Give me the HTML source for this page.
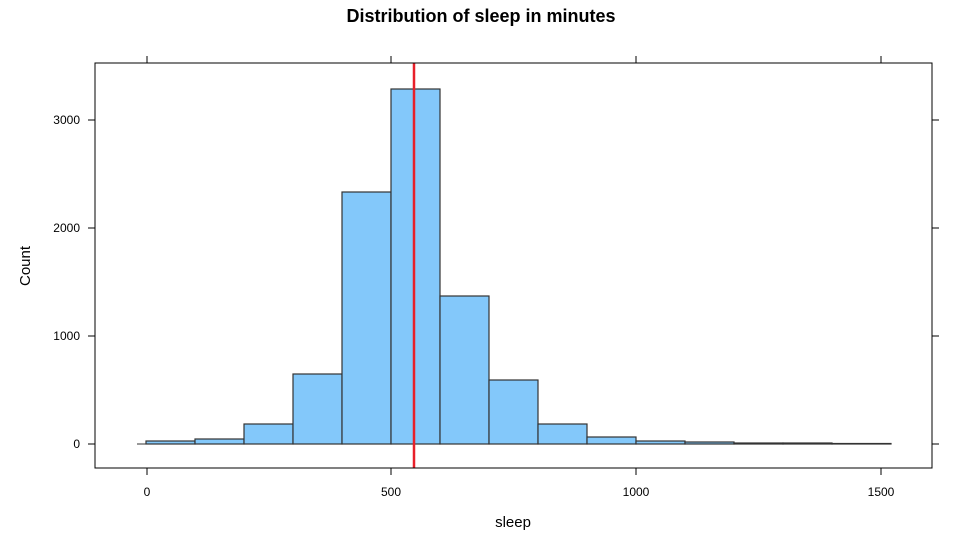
<!DOCTYPE html>
<html><head><style>body{margin:0;background:#fff}</style></head><body>
<svg width="962" height="540" xmlns="http://www.w3.org/2000/svg" font-family="Liberation Sans, sans-serif">
<rect width="962" height="540" fill="#fff"/>
<text x="481" y="22" text-anchor="middle" font-size="18" font-weight="bold">Distribution of sleep in minutes</text>
<g fill="#83c8fa" stroke="#333" stroke-width="1.2">
<rect x="146" y="441" width="49" height="3"/>
<rect x="195" y="439" width="49" height="5"/>
<rect x="244" y="424" width="49" height="20"/>
<rect x="293" y="374" width="49" height="70"/>
<rect x="342" y="192" width="49" height="252"/>
<rect x="391" y="89" width="49" height="355"/>
<rect x="440" y="296" width="49" height="148"/>
<rect x="489" y="380" width="49" height="64"/>
<rect x="538" y="424" width="49" height="20"/>
<rect x="587" y="437" width="49" height="7"/>
<rect x="636" y="441" width="49" height="3"/>
<rect x="685" y="442" width="49" height="2"/>
<rect x="734" y="443" width="49" height="1"/>
<rect x="783" y="443" width="49" height="1"/>
<rect x="832" y="443.5" width="59" height="0.5"/>
</g>
<line x1="137" y1="444" x2="891" y2="444" stroke="#333" stroke-width="1"/>
<line x1="414" y1="63" x2="414" y2="468" stroke="#e8202a" stroke-width="2.5"/>
<rect x="95" y="63" width="837" height="405" fill="none" stroke="#000" stroke-width="1"/>
<g stroke="#000">
<line x1="147" y1="468" x2="147" y2="475"/><line x1="391" y1="468" x2="391" y2="475"/><line x1="636" y1="468" x2="636" y2="475"/><line x1="881" y1="468" x2="881" y2="475"/>
<line x1="147" y1="63" x2="147" y2="56"/><line x1="391" y1="63" x2="391" y2="56"/><line x1="636" y1="63" x2="636" y2="56"/><line x1="881" y1="63" x2="881" y2="56"/>
<line x1="95" y1="444" x2="88" y2="444"/><line x1="95" y1="336" x2="88" y2="336"/><line x1="95" y1="228" x2="88" y2="228"/><line x1="95" y1="120" x2="88" y2="120"/>
<line x1="932" y1="444" x2="939" y2="444"/><line x1="932" y1="336" x2="939" y2="336"/><line x1="932" y1="228" x2="939" y2="228"/><line x1="932" y1="120" x2="939" y2="120"/>
</g>
<g font-size="12" text-anchor="middle">
<text x="147" y="496">0</text><text x="391" y="496">500</text><text x="636" y="496">1000</text><text x="881" y="496">1500</text>
</g>
<g font-size="12" text-anchor="end">
<text x="80" y="448">0</text><text x="80" y="340">1000</text><text x="80" y="232">2000</text><text x="80" y="124">3000</text>
</g>
<text x="513" y="527" text-anchor="middle" font-size="15">sleep</text>
<text transform="translate(30,266) rotate(-90)" text-anchor="middle" font-size="15">Count</text>
</svg>
</body></html>
